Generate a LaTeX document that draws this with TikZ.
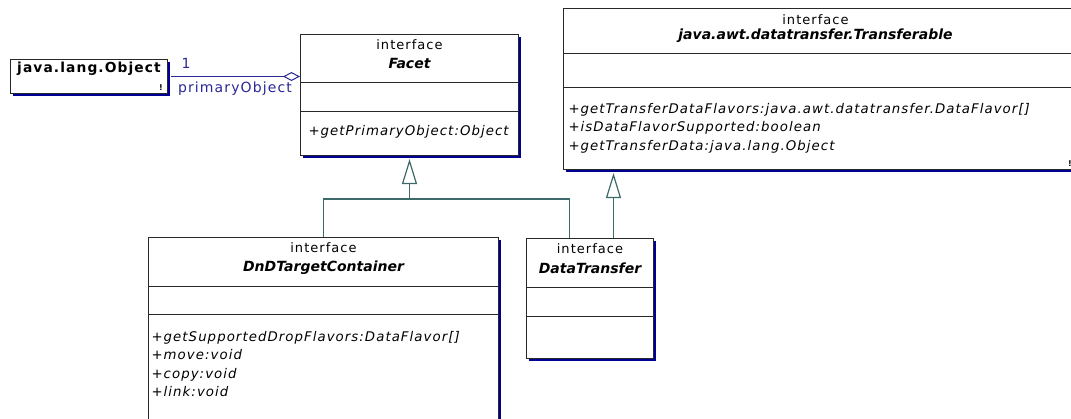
\documentclass[tikz,border=0pt]{standalone}
\usepackage{fontspec}
\setmainfont{DejaVu Sans}
\newfontfamily\umlfont[LetterSpace=8]{DejaVu Sans}
\usetikzlibrary{arrows.meta, positioning, shadows}

\definecolor{umlborder}{RGB}{40,40,40}
\definecolor{umlshadow}{RGB}{0,0,150}
\definecolor{assocblue}{RGB}{40,40,150}
\definecolor{genteal}{RGB}{60,105,105}

\tikzstyle{classbox} = [rectangle, draw=umlborder, fill=white, anchor=north west, inner sep=0pt, drop shadow={shadow xshift=2.5pt, shadow yshift=-2.5pt, fill=umlshadow, opacity=1}]
\tikzstyle{stereo} = [font=\umlfont\fontsize{13}{15}\selectfont, inner sep=0pt]
\tikzstyle{cname} = [font=\fontsize{14}{16}\selectfont\bfseries\itshape, inner sep=0pt]
\tikzstyle{member} = [font=\umlfont\fontsize{13.3}{15}\selectfont\itshape, anchor=west, inner sep=0pt, text height=9.5pt, text depth=3pt]
\tikzstyle{flag} = [font=\fontsize{8}{8}\selectfont\bfseries, inner sep=0pt]
\tikzstyle{sep} = [draw=umlborder]
\tikzstyle{genline} = [genteal, line width=1.2pt]
\tikzstyle{inherit} = [genline, -{Triangle[open, length=25pt, width=15pt]}]
\tikzstyle{aggr} = [assocblue, {Diamond[open, length=17pt, width=9pt]}-]
\tikzstyle{role} = [assocblue, font=\umlfont\fontsize{14}{16}\selectfont, inner sep=0pt]

\begin{document}
\begin{tikzpicture}[x=1pt, y=1pt, line width=1pt]
\useasboundingbox (0,0) rectangle (1071,-418);
\clip (0,0) rectangle (1071,-418);

% java.lang.Object
\node (obj) [classbox, minimum width=157, minimum height=34] at (10,-59) {};
\node (objname) [font=\umlfont\fontsize{13.8}{15}\selectfont\bfseries, inner sep=0pt] at ([yshift=-10]obj.north) {java.lang.Object};
\node (objflag) [flag] at ([xshift=-7,yshift=6]obj.south east) {!};

% Facet
\node (facet) [classbox, minimum width=218, minimum height=121] at (300,-34) {};
\node (facetst) [stereo] at ([yshift=-11]facet.north) {interface};
\node (facetnm) [cname] at ([yshift=-29]facet.north) {Facet};
\draw [sep] ([yshift=-48]facet.north west) -- ([yshift=-48]facet.north east);
\draw [sep] ([yshift=-77]facet.north west) -- ([yshift=-77]facet.north east);
\node (facetm1) [member] at ([xshift=8,yshift=-98]facet.north west) {+getPrimaryObject:Object};

% Transferable
\node (trans) [classbox, minimum width=512, minimum height=161] at (563,-8) {};
\node (transst) [stereo] at ([xshift=-4,yshift=-12]trans.north) {interface};
\node (transnm) [cname] at ([xshift=-4,yshift=-28]trans.north) {java.awt.datatransfer.Transferable};
\draw [sep] ([yshift=-45]trans.north west) -- ([yshift=-45]trans.north east);
\draw [sep] ([yshift=-79]trans.north west) -- ([yshift=-79]trans.north east);
\node (transm1) [member] at ([xshift=5,yshift=-102]trans.north west) {+getTransferDataFlavors:java.awt.datatransfer.DataFlavor[]};
\node (transm2) [member] at ([xshift=5,yshift=-120.5]trans.north west) {+isDataFlavorSupported:boolean};
\node (transm3) [member] at ([xshift=5,yshift=-139]trans.north west) {+getTransferData:java.lang.Object};
\node (transflag) [flag] at ([xshift=-6,yshift=6]trans.south east) {!};

% DnDTargetContainer
\node (dnd) [classbox, minimum width=350, minimum height=190] at (148,-237) {};
\node (dndst) [stereo] at ([yshift=-11]dnd.north) {interface};
\node (dndnm) [cname] at ([yshift=-31]dnd.north) {DnDTargetContainer};
\draw [sep] ([yshift=-49]dnd.north west) -- ([yshift=-49]dnd.north east);
\draw [sep] ([yshift=-77]dnd.north west) -- ([yshift=-77]dnd.north east);
\node (dndm1) [member] at ([xshift=3,yshift=-101]dnd.north west) {+getSupportedDropFlavors:DataFlavor[]};
\node (dndm2) [member] at ([xshift=3,yshift=-119.5]dnd.north west) {+move:void};
\node (dndm3) [member] at ([xshift=3,yshift=-138]dnd.north west) {+copy:void};
\node (dndm4) [member] at ([xshift=3,yshift=-156.5]dnd.north west) {+link:void};

% DataTransfer
\node (dt) [classbox, minimum width=127, minimum height=120] at (526,-238) {};
\node (dtst) [stereo] at ([yshift=-11]dt.north) {interface};
\node (dtnm) [cname] at ([yshift=-30]dt.north) {DataTransfer};
\draw [sep] ([yshift=-49]dt.north west) -- ([yshift=-49]dt.north east);
\draw [sep] ([yshift=-78]dt.north west) -- ([yshift=-78]dt.north east);

% connectors
\draw [aggr] (facet.west |- obj.east) -- ([xshift=3]obj.east);
\node (objmult) [role] at ([xshift=18,yshift=13]obj.east) {1};
\node (objrole) [role] at ([xshift=67,yshift=-12]obj.east) {primaryObject};

\coordinate (facetjoin) at ([yshift=-43]facet.south);
\draw [genline] (dnd.north) |- (facetjoin) -| ([xshift=-20.5]dt.north);
\draw [inherit] (facetjoin) -- ([yshift=-3]facet.south);

\path ([yshift=-3]trans.south) coordinate (transbase);
\draw [inherit] ([xshift=23.5]dt.north) -- ([xshift=23.5]dt.north |- transbase);

\end{tikzpicture}
\end{document}
